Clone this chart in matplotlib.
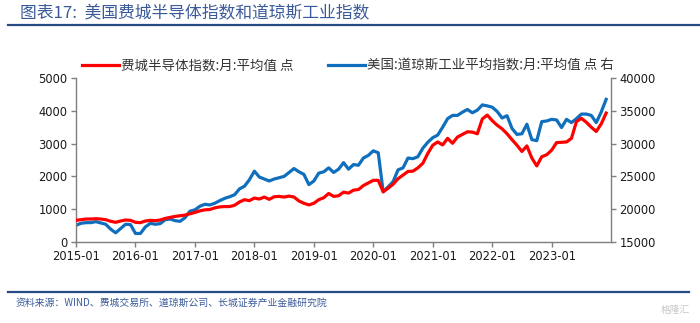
import matplotlib
matplotlib.use("Agg")
import matplotlib.pyplot as plt
from matplotlib.lines import Line2D
import numpy as np

plt.rcParams['font.family'] = ['Noto Sans CJK SC', 'DejaVu Sans']

# ---- data: monthly averages, 2015-01 .. 2023-12 ----
years = ["2015", "2016", "2017", "2018", "2019", "2020", "2021", "2022", "2023"]
months = [f"{y}-{m:02d}" for y in years for m in range(1, 13)]

sox = [
    660, 680, 700, 700, 710, 700, 680, 630, 600, 640, 670, 660,          # 2015
    600, 590, 640, 660, 650, 670, 720, 750, 780, 800, 820, 860,          # 2016
    900, 950, 980, 990, 1040, 1070, 1080, 1080, 1120, 1220, 1290, 1260,  # 2017
    1340, 1310, 1370, 1300, 1380, 1390, 1370, 1400, 1370, 1250, 1180, 1130,  # 2018
    1180, 1290, 1350, 1480, 1390, 1410, 1520, 1490, 1580, 1600, 1720, 1800,  # 2019
    1880, 1880, 1530, 1640, 1760, 1930, 2040, 2150, 2160, 2260, 2400, 2700,  # 2020
    2950, 3050, 2960, 3160, 3010, 3200, 3280, 3360, 3350, 3300, 3750, 3870,  # 2021
    3700, 3560, 3450, 3300, 3120, 2950, 2760, 2930, 2560, 2320, 2600, 2660,  # 2022
    2800, 3030, 3040, 3050, 3160, 3670, 3770, 3650, 3500, 3370, 3600, 3930,  # 2023
]

djia = [
    17550, 17850, 17950, 17950, 18100, 17900, 17700, 16950, 16400, 17050, 17700, 17650,  # 2015
    16300, 16300, 17300, 17850, 17700, 17800, 18400, 18500, 18250, 18150, 18700, 19700,  # 2016
    19900, 20450, 20750, 20650, 20900, 21300, 21650, 21900, 22200, 23100, 23500, 24500,  # 2017
    25800, 24900, 24600, 24300, 24600, 24800, 25000, 25600, 26200, 25700, 25300, 23750,  # 2018
    24300, 25500, 25700, 26300, 25600, 26100, 27100, 26100, 26800, 26700, 27800, 28200,  # 2019
    28900, 28600, 22650, 23400, 24200, 26000, 26300, 27800, 27700, 28000, 29300, 30200,  # 2020
    30900, 31300, 32500, 33800, 34300, 34300, 34800, 35200, 34700, 35100, 35900, 35750,  # 2021
    35550, 34900, 33900, 34250, 32300, 31400, 31500, 32950, 30600, 30450, 33350, 33450,  # 2022
    33700, 33600, 32450, 33700, 33200, 33800, 34500, 34500, 34300, 33200, 34800, 36750,  # 2023
]

label_sox = "费城半导体指数:月:平均值 点"
label_djia = "美国:道琼斯工业平均指数:月:平均值 点 右"
tick_labels = [f"{y}-01" for y in years]

title = "图表17:  美国费城半导体指数和道琼斯工业指数"
source = "资料来源：WIND、费城交易所、道琼斯公司、长城证券产业金融研究院"

RED = "#ff0000"
BLUE = "#0f6fbd"
TXT_BLUE = "#3b5a9a"
AXC = "#7f7f7f"

fig = plt.figure(figsize=(7.0, 3.23), dpi=100)
ax = fig.add_axes([0.1086, 0.2508, 0.873 - 0.1086, 0.7585 - 0.2508])
ax2 = ax.twinx()

x = np.arange(len(months))
l1, = ax.plot(x, sox, color=RED, lw=2.3, solid_joinstyle='round', zorder=3)
l2, = ax2.plot(x, djia, color=BLUE, lw=2.3, solid_joinstyle='round', zorder=3)

ax.set_xlim(0, 108)
ax.set_ylim(0, 5000)
ax2.set_ylim(15000, 40000)
ax.set_yticks(np.arange(0, 5001, 1000))
ax2.set_yticks(np.arange(15000, 40001, 5000))
ax.set_xticks(np.arange(0, 108, 12))
ax.set_xticklabels(tick_labels)

for a in (ax, ax2):
    for s in a.spines.values():
        s.set_color(AXC)
        s.set_linewidth(1.0)
    a.spines['top'].set_visible(False)
ax.spines['right'].set_visible(False)
ax2.spines['left'].set_visible(False)
ax2.spines['bottom'].set_visible(False)

ax.tick_params(axis='both', direction='out', length=3.5, width=1, color=AXC,
               labelsize=8.3, labelcolor='#1a1a1a', pad=2.5)
ax2.tick_params(axis='y', direction='out', length=3.5, width=1, color=AXC,
                labelsize=8.3, labelcolor='#1a1a1a', pad=2.5)
for lab in ax.get_xticklabels() + ax.get_yticklabels() + ax2.get_yticklabels():
    lab.set_family(['DejaVu Sans'])
ax.patch.set_visible(False)
ax2.set_zorder(ax.get_zorder() - 1)
ax.set_zorder(ax2.get_zorder() + 1)

leg = fig.legend([l1, l2], [label_sox, label_djia], loc='center',
                 bbox_to_anchor=(0.497, 0.796), ncol=2, frameon=False,
                 fontsize=9.7, handlelength=2.75, handletextpad=0.15,
                 columnspacing=2.5, borderaxespad=0)
for t in leg.get_texts():
    t.set_color('#333333')

# title and rules
fig.text(0.028, 0.958, title, fontsize=12.1, color=TXT_BLUE, va='center', ha='left',
         style='italic')
fig.add_artist(Line2D([0.012, 1.0], [0.922, 0.922], color='#274a84', lw=1.6))
fig.add_artist(Line2D([0.012, 0.984], [0.096, 0.096], color='#274a84', lw=1.6))
fig.text(0.022, 0.062, source, fontsize=7.1, color=TXT_BLUE, va='center', ha='left',
         style='italic')
fig.text(0.985, 0.04, "格隆汇", fontsize=7, color='#c8c8c8', va='center', ha='right')

fig.savefig("out.png", dpi=100)
